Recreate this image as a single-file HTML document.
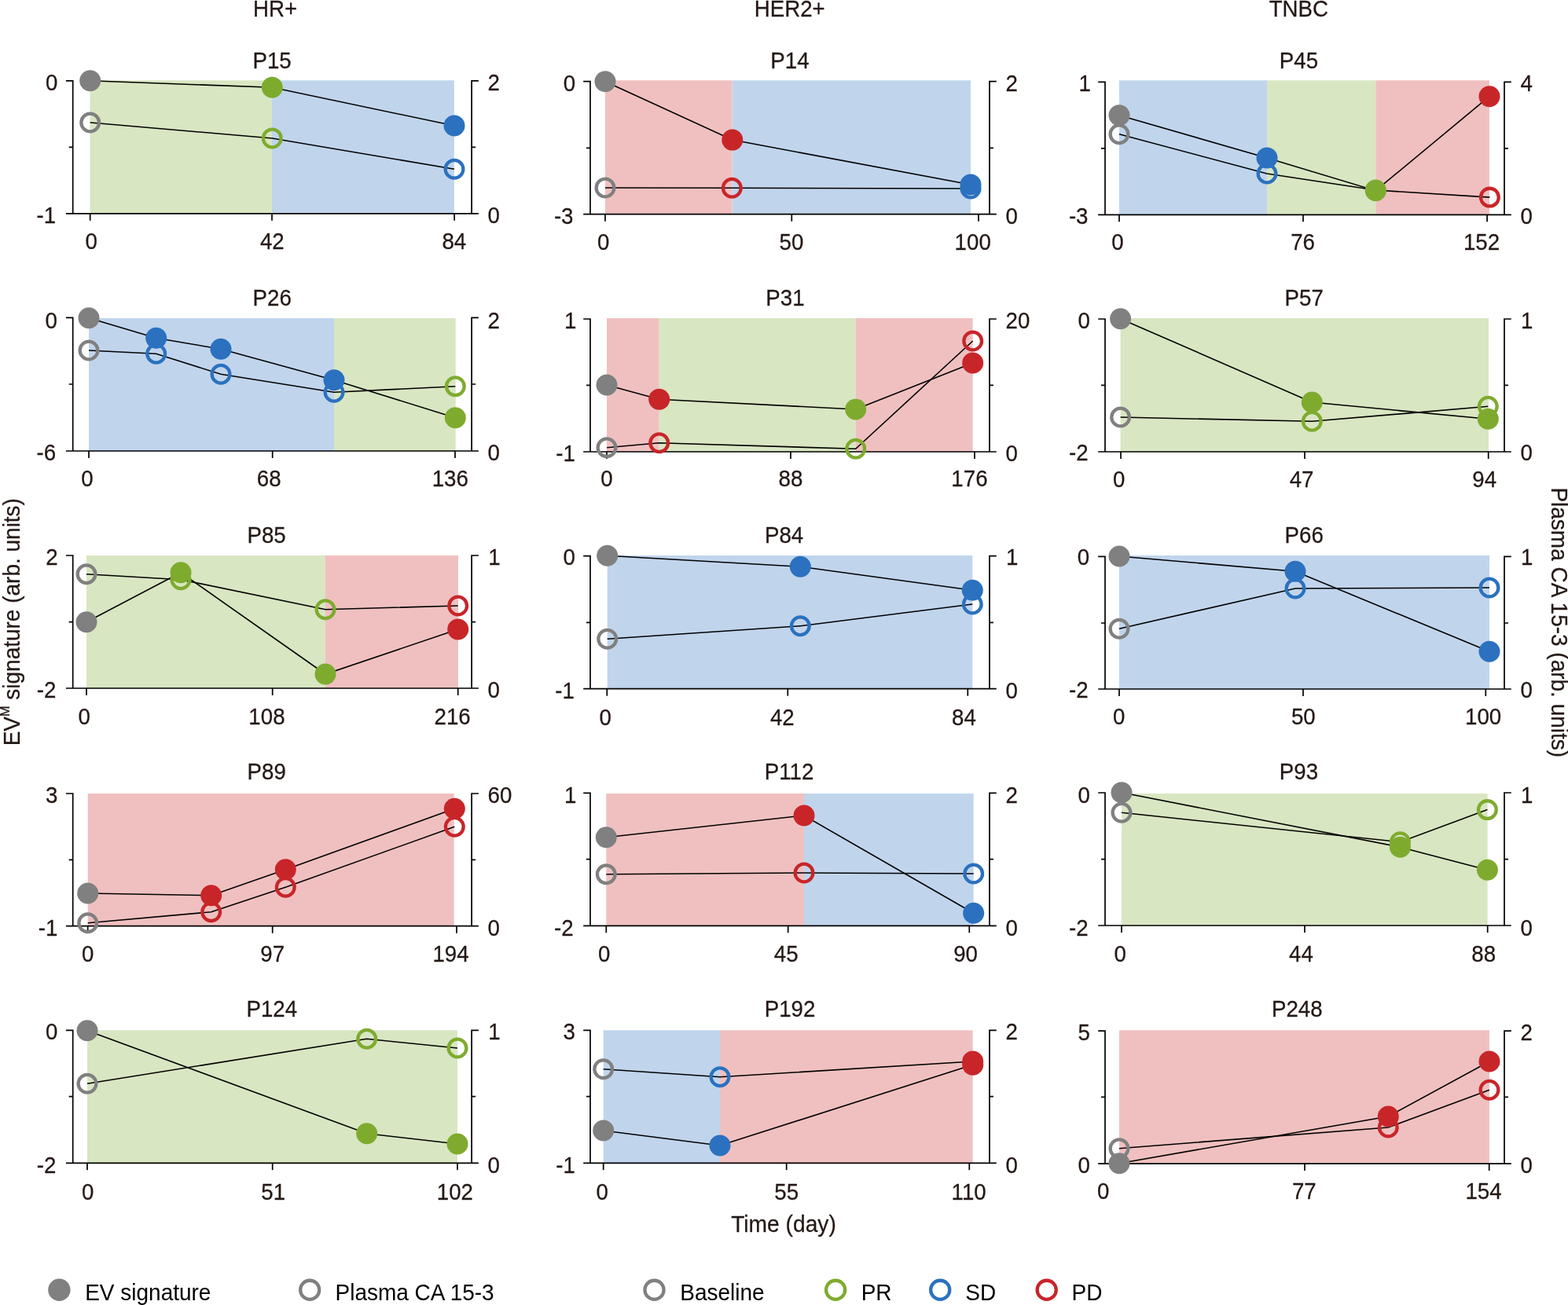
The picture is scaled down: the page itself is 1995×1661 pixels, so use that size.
<!DOCTYPE html>
<html lang="en">
<head>
<meta charset="utf-8">
<title>EV signature and plasma CA 15-3 over time</title>
<style>
html,body{margin:0;padding:0;background:#fff}
body{width:1995px;height:1661px;overflow:hidden}
svg{display:block}
text{font-family:"Liberation Sans",Arial,Helvetica,sans-serif;font-size:27.7px;fill:#231815;stroke:#231815;stroke-width:0.25px;stroke-linejoin:round}
text.t{font-size:28px}
text.k{fill:#000;stroke:none;font-size:28px}
.ax{fill:none;stroke:#000000;stroke-width:1.7}
.ln{fill:none;stroke:#000;stroke-width:1.6}
.o{fill:none;stroke-width:4.3}
</style>
</head>
<body>
<svg width="1995" height="1661" viewBox="0 0 1995 1661">
<rect width="1995" height="1661" fill="#fff"/>
<g id="P15">
<rect x="114.5" y="102.3" width="231.5" height="169.5" fill="#D8E6C2"/>
<rect x="346" y="102.3" width="231.9" height="169.5" fill="#C0D5EC"/>
<path class="ax" d="M83.9 102.9H92.7V271.8M87.7 187.3H92.7M608.9 102.9H600.1V271.8M605.1 187.3H600.1M83.9 271.8H608.9M114.7 271.8V280.8M346 271.8V280.8M578.1 271.8V280.8"/>
<polyline class="ln" points="114.7,156 346.3,176 578,215.3"/>
<polyline class="ln" points="114.7,102.7 346.3,111.3 578,160"/>
<circle class="o" cx="114.7" cy="156" r="11.35" stroke="#808080"/>
<circle class="o" cx="346.3" cy="176" r="11.35" stroke="#7EAB2E"/>
<circle class="o" cx="578" cy="215.3" r="11.35" stroke="#2B71BF"/>
<circle cx="114.7" cy="102.7" r="13.5" fill="#808080"/>
<circle cx="346.3" cy="111.3" r="13.5" fill="#7EAB2E"/>
<circle cx="578" cy="160" r="13.5" fill="#2B71BF"/>
<text transform="translate(321.5 86.7) scale(1 1.04)">P15</text>
<text transform="translate(57.98 115.3) scale(1 1.04)">0</text>
<text transform="translate(46.46 283.6) scale(1 1.04)">-1</text>
<text transform="translate(620.6 115.3) scale(1 1.04)">2</text>
<text transform="translate(620.6 283.6) scale(1 1.04)">0</text>
<text transform="translate(108.5 317.4) scale(1 1.04)">0</text>
<text transform="translate(330.97 317.4) scale(1 1.04)">42</text>
<text transform="translate(562.4 317.4) scale(1 1.04)">84</text>
</g>
<g id="P14">
<rect x="770" y="102.3" width="161.7" height="170.4" fill="#F0C0C0"/>
<rect x="931.7" y="102.3" width="303.3" height="170.4" fill="#C0D5EC"/>
<path class="ax" d="M742.2 103.7H751V272.7M746 188.3H751M1267.8 103.7H1259V272.7M1264 188.3H1259M742.2 272.7H1267.8M770 272.7V281.7M1007.3 272.7V281.7M1245 272.7V281.7"/>
<polyline class="ln" points="770,239 931.3,239.3 1235,240"/>
<polyline class="ln" points="770,103.7 931.8,178.1 1235,235"/>
<circle class="o" cx="770" cy="239" r="11.35" stroke="#808080"/>
<circle class="o" cx="931.3" cy="239.3" r="11.35" stroke="#C82529"/>
<circle class="o" cx="1235" cy="240" r="11.35" stroke="#2B71BF"/>
<circle cx="770" cy="103.7" r="13.5" fill="#808080"/>
<circle cx="931.8" cy="178.1" r="13.5" fill="#C82529"/>
<circle cx="1235" cy="235" r="13.5" fill="#2B71BF"/>
<text transform="translate(980.33 86.7) scale(1 1.04)">P14</text>
<text transform="translate(716.78 115.9) scale(1 1.04)">0</text>
<text transform="translate(704.89 285) scale(1 1.04)">-3</text>
<text transform="translate(1279.5 115.9) scale(1 1.04)">2</text>
<text transform="translate(1279.5 285) scale(1 1.04)">0</text>
<text transform="translate(760 318.1) scale(1 1.04)">0</text>
<text transform="translate(991.58 318.1) scale(1 1.04)">50</text>
<text transform="translate(1214.58 318.1) scale(1 1.04)">100</text>
</g>
<g id="P45">
<rect x="1424" y="102.3" width="188" height="171" fill="#C0D5EC"/>
<rect x="1612" y="102.3" width="138.3" height="171" fill="#D8E6C2"/>
<rect x="1750.3" y="102.3" width="144.7" height="171" fill="#F0C0C0"/>
<path class="ax" d="M1397.2 104.3H1406V273.3M1401 188.8H1406M1922.8 104.3H1914V273.3M1919 188.8H1914M1397.2 273.3H1922.8M1424 273.3V282.3M1658 273.3V282.3M1892.1 273.3V282.3"/>
<polyline class="ln" points="1424,170.7 1612,221 1750.3,242 1895.4,251.1"/>
<polyline class="ln" points="1424,146.7 1612,201 1750.3,242.7 1895,122.7"/>
<circle class="o" cx="1424" cy="170.7" r="11.35" stroke="#808080"/>
<circle class="o" cx="1612" cy="221" r="11.35" stroke="#2B71BF"/>
<circle class="o" cx="1750.3" cy="242" r="11.35" stroke="#7EAB2E"/>
<circle class="o" cx="1895.4" cy="251.1" r="11.35" stroke="#C82529"/>
<circle cx="1424" cy="146.7" r="13.5" fill="#808080"/>
<circle cx="1612" cy="201" r="13.5" fill="#2B71BF"/>
<circle cx="1750.3" cy="242.7" r="13.5" fill="#7EAB2E"/>
<circle cx="1895" cy="122.7" r="13.5" fill="#C82529"/>
<text transform="translate(1627.8 86.7) scale(1 1.04)">P45</text>
<text transform="translate(1372.58 116.1) scale(1 1.04)">1</text>
<text transform="translate(1359.89 284.9) scale(1 1.04)">-3</text>
<text transform="translate(1934.5 116.1) scale(1 1.04)">4</text>
<text transform="translate(1934.5 284.9) scale(1 1.04)">0</text>
<text transform="translate(1414.3 318.2) scale(1 1.04)">0</text>
<text transform="translate(1642.19 318.2) scale(1 1.04)">76</text>
<text transform="translate(1861.93 318.2) scale(1 1.04)">152</text>
</g>
<g id="P26">
<rect x="113" y="405" width="312" height="169" fill="#C0D5EC"/>
<rect x="425" y="405" width="154.7" height="169" fill="#D8E6C2"/>
<path class="ax" d="M83.9 404.3H92.7V574M87.7 489H92.7M608.9 404.3H600.1V574M605.1 489H600.1M83.9 574H608.9M113 574V583M346.7 574V583M579 574V583"/>
<polyline class="ln" points="113,446 198.7,450.3 281,476.3 425,499.3 579.3,491.7"/>
<polyline class="ln" points="113,404.7 198.7,430.3 281,444.3 425,483.7 579.3,531.7"/>
<circle class="o" cx="113" cy="446" r="11.35" stroke="#808080"/>
<circle class="o" cx="198.7" cy="450.3" r="11.35" stroke="#2B71BF"/>
<circle class="o" cx="281" cy="476.3" r="11.35" stroke="#2B71BF"/>
<circle class="o" cx="425" cy="499.3" r="11.35" stroke="#2B71BF"/>
<circle class="o" cx="579.3" cy="491.7" r="11.35" stroke="#7EAB2E"/>
<circle cx="113" cy="404.7" r="13.5" fill="#808080"/>
<circle cx="198.7" cy="430.3" r="13.5" fill="#2B71BF"/>
<circle cx="281" cy="444.3" r="13.5" fill="#2B71BF"/>
<circle cx="425" cy="483.7" r="13.5" fill="#2B71BF"/>
<circle cx="579.3" cy="531.7" r="13.5" fill="#7EAB2E"/>
<text transform="translate(321.53 389.3) scale(1 1.04)">P26</text>
<text transform="translate(57.38 417.7) scale(1 1.04)">0</text>
<text transform="translate(46.59 586) scale(1 1.04)">-6</text>
<text transform="translate(620.6 417.7) scale(1 1.04)">2</text>
<text transform="translate(620.6 586) scale(1 1.04)">0</text>
<text transform="translate(103.3 619.3) scale(1 1.04)">0</text>
<text transform="translate(326.79 619.3) scale(1 1.04)">68</text>
<text transform="translate(549.64 619.3) scale(1 1.04)">136</text>
</g>
<g id="P31">
<rect x="772" y="405" width="66.7" height="170" fill="#F0C0C0"/>
<rect x="838.7" y="405" width="250" height="170" fill="#D8E6C2"/>
<rect x="1088.7" y="405" width="149" height="170" fill="#F0C0C0"/>
<path class="ax" d="M742.2 406H751V575M746 490.3H751M1267.8 406H1259V575M1264 490.3H1259M742.2 575H1267.8M772 575V584M1006 575V584M1240 575V584"/>
<polyline class="ln" points="772,569.7 838.7,563.7 1088.7,571.3 1237.7,434"/>
<polyline class="ln" points="772,490 838.7,508.3 1088.7,521 1237.7,462"/>
<circle class="o" cx="772" cy="569.7" r="11.35" stroke="#808080"/>
<circle class="o" cx="838.7" cy="563.7" r="11.35" stroke="#C82529"/>
<circle class="o" cx="1088.7" cy="571.3" r="11.35" stroke="#7EAB2E"/>
<circle class="o" cx="1237.7" cy="434" r="11.35" stroke="#C82529"/>
<circle cx="772" cy="490" r="13.5" fill="#808080"/>
<circle cx="838.7" cy="508.3" r="13.5" fill="#C82529"/>
<circle cx="1088.7" cy="521" r="13.5" fill="#7EAB2E"/>
<circle cx="1237.7" cy="462" r="13.5" fill="#C82529"/>
<text transform="translate(974.26 389.3) scale(1 1.04)">P31</text>
<text transform="translate(717.98 418.1) scale(1 1.04)">1</text>
<text transform="translate(707.16 586.8) scale(1 1.04)">-1</text>
<text transform="translate(1279.5 418.1) scale(1 1.04)">20</text>
<text transform="translate(1279.5 586.8) scale(1 1.04)">0</text>
<text transform="translate(764.3 619) scale(1 1.04)">0</text>
<text transform="translate(990.59 619) scale(1 1.04)">88</text>
<text transform="translate(1210.34 619) scale(1 1.04)">176</text>
</g>
<g id="P57">
<rect x="1425.6" y="405" width="468.4" height="170" fill="#D8E6C2"/>
<path class="ax" d="M1397.2 406H1406V575M1401 490.3H1406M1922.8 406H1914V575M1919 490.3H1914M1397.2 575H1922.8M1426 575V584M1660 575V584M1893.7 575V584"/>
<polyline class="ln" points="1425.6,531 1669.3,536.3 1893.3,517.3"/>
<polyline class="ln" points="1425.6,405.7 1669.3,512 1893.3,533.3"/>
<circle class="o" cx="1425.6" cy="531" r="11.35" stroke="#808080"/>
<circle class="o" cx="1669.3" cy="536.3" r="11.35" stroke="#7EAB2E"/>
<circle class="o" cx="1893.3" cy="517.3" r="11.35" stroke="#7EAB2E"/>
<circle cx="1425.6" cy="405.7" r="13.5" fill="#808080"/>
<circle cx="1669.3" cy="512" r="13.5" fill="#7EAB2E"/>
<circle cx="1893.3" cy="533.3" r="13.5" fill="#7EAB2E"/>
<text transform="translate(1634.62 389.3) scale(1 1.04)">P57</text>
<text transform="translate(1371.38 417.7) scale(1 1.04)">0</text>
<text transform="translate(1360.06 586) scale(1 1.04)">-2</text>
<text transform="translate(1935.1 417.7) scale(1 1.04)">1</text>
<text transform="translate(1934.5 586) scale(1 1.04)">0</text>
<text transform="translate(1416 620.2) scale(1 1.04)">0</text>
<text transform="translate(1640.67 620.2) scale(1 1.04)">47</text>
<text transform="translate(1873.35 620.2) scale(1 1.04)">94</text>
</g>
<g id="P85">
<rect x="110" y="707" width="304" height="169" fill="#D8E6C2"/>
<rect x="414" y="707" width="169" height="169" fill="#F0C0C0"/>
<path class="ax" d="M83.9 707H92.7V876M87.7 791.7H92.7M608.9 707H600.1V876M605.1 791.7H600.1M83.9 876H608.9M110 876V885M346.7 876V885M582.7 876V885"/>
<polyline class="ln" points="110,730.7 230,737.7 414,775.7 582.7,771"/>
<polyline class="ln" points="110,791.7 230,728.7 414,858 582.7,801"/>
<circle class="o" cx="110" cy="730.7" r="11.35" stroke="#808080"/>
<circle class="o" cx="230" cy="737.7" r="11.35" stroke="#7EAB2E"/>
<circle class="o" cx="414" cy="775.7" r="11.35" stroke="#7EAB2E"/>
<circle class="o" cx="582.7" cy="771" r="11.35" stroke="#C82529"/>
<circle cx="110" cy="791.7" r="13.5" fill="#808080"/>
<circle cx="230" cy="728.7" r="13.5" fill="#7EAB2E"/>
<circle cx="414" cy="858" r="13.5" fill="#7EAB2E"/>
<circle cx="582.7" cy="801" r="13.5" fill="#C82529"/>
<text transform="translate(314.5 690.7) scale(1 1.04)">P85</text>
<text transform="translate(58.29 718.5) scale(1 1.04)">2</text>
<text transform="translate(46.76 888.3) scale(1 1.04)">-2</text>
<text transform="translate(621.2 718.5) scale(1 1.04)">1</text>
<text transform="translate(620.6 888.3) scale(1 1.04)">0</text>
<text transform="translate(99.6 922.3) scale(1 1.04)">0</text>
<text transform="translate(316.34 922.3) scale(1 1.04)">108</text>
<text transform="translate(552.5 922.3) scale(1 1.04)">216</text>
</g>
<g id="P84">
<rect x="772.7" y="707" width="464.6" height="169.7" fill="#C0D5EC"/>
<path class="ax" d="M742.2 707.7H751V876.7M746 792.3H751M1267.8 707.7H1259V876.7M1264 792.3H1259M742.2 876.7H1267.8M772.3 876.7V885.7M1002.3 876.7V885.7M1231.3 876.7V885.7"/>
<polyline class="ln" points="772.7,813.3 1018.3,796.7 1237.3,769"/>
<polyline class="ln" points="772.7,707.3 1018.3,721.3 1237.3,751.3"/>
<circle class="o" cx="772.7" cy="813.3" r="11.35" stroke="#808080"/>
<circle class="o" cx="1018.3" cy="796.7" r="11.35" stroke="#2B71BF"/>
<circle class="o" cx="1237.3" cy="769" r="11.35" stroke="#2B71BF"/>
<circle cx="772.7" cy="707.3" r="13.5" fill="#808080"/>
<circle cx="1018.3" cy="721.3" r="13.5" fill="#2B71BF"/>
<circle cx="1237.3" cy="751.3" r="13.5" fill="#2B71BF"/>
<text transform="translate(972.93 690.7) scale(1 1.04)">P84</text>
<text transform="translate(716.38 719) scale(1 1.04)">0</text>
<text transform="translate(706.36 888.8) scale(1 1.04)">-1</text>
<text transform="translate(1280.1 719) scale(1 1.04)">1</text>
<text transform="translate(1279.5 888.8) scale(1 1.04)">0</text>
<text transform="translate(762.6 922.8) scale(1 1.04)">0</text>
<text transform="translate(979.97 922.8) scale(1 1.04)">42</text>
<text transform="translate(1211.1 922.8) scale(1 1.04)">84</text>
</g>
<g id="P66">
<rect x="1424" y="707" width="471" height="170" fill="#C0D5EC"/>
<path class="ax" d="M1397.2 708.3H1406V877M1401 793H1406M1922.8 708.3H1914V877M1919 793H1914M1397.2 877H1922.8M1424 877V886M1658 877V886M1890.3 877V886"/>
<polyline class="ln" points="1424,800.3 1648,749 1895,748"/>
<polyline class="ln" points="1424,708 1648,727.3 1895,829.3"/>
<circle class="o" cx="1424" cy="800.3" r="11.35" stroke="#808080"/>
<circle class="o" cx="1648" cy="749" r="11.35" stroke="#2B71BF"/>
<circle class="o" cx="1895" cy="748" r="11.35" stroke="#2B71BF"/>
<circle cx="1424" cy="708" r="13.5" fill="#808080"/>
<circle cx="1648" cy="727.3" r="13.5" fill="#2B71BF"/>
<circle cx="1895" cy="829.3" r="13.5" fill="#2B71BF"/>
<text transform="translate(1634.53 690.7) scale(1 1.04)">P66</text>
<text transform="translate(1370.68 719.2) scale(1 1.04)">0</text>
<text transform="translate(1360.06 888.3) scale(1 1.04)">-2</text>
<text transform="translate(1935.1 719.2) scale(1 1.04)">1</text>
<text transform="translate(1934.5 888.3) scale(1 1.04)">0</text>
<text transform="translate(1416 922.3) scale(1 1.04)">0</text>
<text transform="translate(1642.88 922.3) scale(1 1.04)">50</text>
<text transform="translate(1863.98 922.3) scale(1 1.04)">100</text>
</g>
<g id="P89">
<rect x="111.7" y="1010" width="466" height="168.7" fill="#F0C0C0"/>
<path class="ax" d="M83.9 1010H92.7V1178.7M87.7 1094.3H92.7M608.9 1010H600.1V1178.7M605.1 1094.3H600.1M83.9 1178.7H608.9M111.7 1178.7V1187.7M346.7 1178.7V1187.7M581 1178.7V1187.7"/>
<polyline class="ln" points="111.7,1174.7 268.7,1160.7 363.3,1129.3 578.3,1052.3"/>
<polyline class="ln" points="111.7,1137 268.7,1139.7 363.3,1106.7 578.3,1029.3"/>
<circle class="o" cx="111.7" cy="1174.7" r="11.35" stroke="#808080"/>
<circle class="o" cx="268.7" cy="1160.7" r="11.35" stroke="#C82529"/>
<circle class="o" cx="363.3" cy="1129.3" r="11.35" stroke="#C82529"/>
<circle class="o" cx="578.3" cy="1052.3" r="11.35" stroke="#C82529"/>
<circle cx="111.7" cy="1137" r="13.5" fill="#808080"/>
<circle cx="268.7" cy="1139.7" r="13.5" fill="#C82529"/>
<circle cx="363.3" cy="1106.7" r="13.5" fill="#C82529"/>
<circle cx="578.3" cy="1029.3" r="13.5" fill="#C82529"/>
<text transform="translate(314.58 992.3) scale(1 1.04)">P89</text>
<text transform="translate(58.11 1021.7) scale(1 1.04)">3</text>
<text transform="translate(48.76 1190.7) scale(1 1.04)">-1</text>
<text transform="translate(620.6 1021.7) scale(1 1.04)">60</text>
<text transform="translate(620.6 1190.7) scale(1 1.04)">0</text>
<text transform="translate(104 1224.3) scale(1 1.04)">0</text>
<text transform="translate(331.34 1224.3) scale(1 1.04)">97</text>
<text transform="translate(550.44 1224.3) scale(1 1.04)">194</text>
</g>
<g id="P112">
<rect x="771.3" y="1010" width="251.7" height="168.3" fill="#F0C0C0"/>
<rect x="1023" y="1010" width="215.7" height="168.3" fill="#C0D5EC"/>
<path class="ax" d="M742.2 1009.3H751V1178.3M746 1093.7H751M1267.8 1009.3H1259V1178.3M1264 1093.7H1259M742.2 1178.3H1267.8M771.3 1178.3V1187.3M1002.7 1178.3V1187.3M1233.3 1178.3V1187.3"/>
<polyline class="ln" points="771.3,1112.7 1023,1111 1238.7,1112"/>
<polyline class="ln" points="771.3,1065.7 1023,1038 1238.7,1162.3"/>
<circle class="o" cx="771.3" cy="1112.7" r="11.35" stroke="#808080"/>
<circle class="o" cx="1023" cy="1111" r="11.35" stroke="#C82529"/>
<circle class="o" cx="1238.7" cy="1112" r="11.35" stroke="#2B71BF"/>
<circle cx="771.3" cy="1065.7" r="13.5" fill="#808080"/>
<circle cx="1023" cy="1038" r="13.5" fill="#C82529"/>
<circle cx="1238.7" cy="1162.3" r="13.5" fill="#2B71BF"/>
<text transform="translate(972.71 992.3) scale(1 1.04)">P112</text>
<text transform="translate(717.98 1021.7) scale(1 1.04)">1</text>
<text transform="translate(705.06 1190.7) scale(1 1.04)">-2</text>
<text transform="translate(1279.5 1021.7) scale(1 1.04)">2</text>
<text transform="translate(1279.5 1190.7) scale(1 1.04)">0</text>
<text transform="translate(761 1224.3) scale(1 1.04)">0</text>
<text transform="translate(984.86 1224.3) scale(1 1.04)">45</text>
<text transform="translate(1213.19 1224.3) scale(1 1.04)">90</text>
</g>
<g id="P93">
<rect x="1427" y="1010" width="465.6" height="168" fill="#D8E6C2"/>
<path class="ax" d="M1397.2 1009H1406V1178M1401 1093.7H1406M1922.8 1009H1914V1178M1919 1093.7H1914M1397.2 1178H1922.8M1427 1178V1187M1660 1178V1187M1892.7 1178V1187"/>
<polyline class="ln" points="1427,1034.3 1781.4,1071.7 1892.4,1030.6"/>
<polyline class="ln" points="1427,1008.7 1781.4,1078.2 1892.4,1107.3"/>
<circle class="o" cx="1427" cy="1034.3" r="11.35" stroke="#808080"/>
<circle class="o" cx="1781.4" cy="1071.7" r="11.35" stroke="#7EAB2E"/>
<circle class="o" cx="1892.4" cy="1030.6" r="11.35" stroke="#7EAB2E"/>
<circle cx="1427" cy="1008.7" r="13.5" fill="#808080"/>
<circle cx="1781.4" cy="1078.2" r="13.5" fill="#7EAB2E"/>
<circle cx="1892.4" cy="1107.3" r="13.5" fill="#7EAB2E"/>
<text transform="translate(1627.83 992.3) scale(1 1.04)">P93</text>
<text transform="translate(1371.38 1021.7) scale(1 1.04)">0</text>
<text transform="translate(1360.06 1190.7) scale(1 1.04)">-2</text>
<text transform="translate(1935.1 1021.7) scale(1 1.04)">1</text>
<text transform="translate(1934.5 1190.7) scale(1 1.04)">0</text>
<text transform="translate(1417.6 1224.3) scale(1 1.04)">0</text>
<text transform="translate(1639.98 1224.3) scale(1 1.04)">44</text>
<text transform="translate(1872.29 1224.3) scale(1 1.04)">88</text>
</g>
<g id="P124">
<rect x="111" y="1311.3" width="471" height="169" fill="#D8E6C2"/>
<path class="ax" d="M83.9 1311.3H92.7V1480.3M87.7 1395.7H92.7M608.9 1311.3H600.1V1480.3M605.1 1395.7H600.1M83.9 1480.3H608.9M111 1480.3V1489.3M346.7 1480.3V1489.3M582 1480.3V1489.3"/>
<polyline class="ln" points="111,1379.3 466.7,1322.3 582,1334"/>
<polyline class="ln" points="111,1311.7 466.7,1442.7 582,1456"/>
<circle class="o" cx="111" cy="1379.3" r="11.35" stroke="#808080"/>
<circle class="o" cx="466.7" cy="1322.3" r="11.35" stroke="#7EAB2E"/>
<circle class="o" cx="582" cy="1334" r="11.35" stroke="#7EAB2E"/>
<circle cx="111" cy="1311.7" r="13.5" fill="#808080"/>
<circle cx="466.7" cy="1442.7" r="13.5" fill="#7EAB2E"/>
<circle cx="582" cy="1456" r="13.5" fill="#7EAB2E"/>
<text transform="translate(313.42 1294.3) scale(1 1.04)">P124</text>
<text transform="translate(57.98 1323.3) scale(1 1.04)">0</text>
<text transform="translate(46.76 1493.3) scale(1 1.04)">-2</text>
<text transform="translate(621.2 1323.3) scale(1 1.04)">1</text>
<text transform="translate(620.6 1493.3) scale(1 1.04)">0</text>
<text transform="translate(104 1526.7) scale(1 1.04)">0</text>
<text transform="translate(332.28 1526.7) scale(1 1.04)">51</text>
<text transform="translate(555.73 1526.7) scale(1 1.04)">102</text>
</g>
<g id="P192">
<rect x="767.7" y="1311.3" width="148.3" height="169" fill="#C0D5EC"/>
<rect x="916" y="1311.3" width="321.7" height="169" fill="#F0C0C0"/>
<path class="ax" d="M742.2 1311.3H751V1480.3M746 1395.7H751M1267.8 1311.3H1259V1480.3M1264 1395.7H1259M742.2 1480.3H1267.8M767.7 1480.3V1489.3M1000.7 1480.3V1489.3M1233.3 1480.3V1489.3"/>
<polyline class="ln" points="767.7,1360.7 916,1370.7 1237.7,1351"/>
<polyline class="ln" points="767.7,1439 916,1458 1237.7,1355.3"/>
<circle class="o" cx="767.7" cy="1360.7" r="11.35" stroke="#808080"/>
<circle class="o" cx="916" cy="1370.7" r="11.35" stroke="#2B71BF"/>
<circle class="o" cx="1237.7" cy="1351" r="11.35" stroke="#C82529"/>
<circle cx="767.7" cy="1439" r="13.5" fill="#808080"/>
<circle cx="916" cy="1458" r="13.5" fill="#2B71BF"/>
<circle cx="1237.7" cy="1355.3" r="13.5" fill="#C82529"/>
<text transform="translate(972.71 1294.3) scale(1 1.04)">P192</text>
<text transform="translate(716.51 1323.3) scale(1 1.04)">3</text>
<text transform="translate(707.16 1493.3) scale(1 1.04)">-1</text>
<text transform="translate(1279.5 1323.3) scale(1 1.04)">2</text>
<text transform="translate(1279.5 1493.3) scale(1 1.04)">0</text>
<text transform="translate(758.6 1526.7) scale(1 1.04)">0</text>
<text transform="translate(985.32 1526.7) scale(1 1.04)">55</text>
<text transform="translate(1210.58 1526.7) scale(1 1.04)">110</text>
</g>
<g id="P248">
<rect x="1424" y="1311.3" width="471" height="169.8" fill="#F0C0C0"/>
<path class="ax" d="M1397.2 1312.1H1406V1481.1M1401 1396.3H1406M1922.8 1312.1H1914V1481.1M1919 1396.3H1914M1397.2 1481.1H1922.8M1424 1481.1V1490.1M1660 1481.1V1490.1M1894.7 1481.1V1490.1"/>
<polyline class="ln" points="1424,1461.7 1766.3,1435 1895,1387.3"/>
<polyline class="ln" points="1424,1480.7 1766.3,1421 1895,1351"/>
<circle class="o" cx="1424" cy="1461.7" r="11.35" stroke="#808080"/>
<circle class="o" cx="1766.3" cy="1435" r="11.35" stroke="#C82529"/>
<circle class="o" cx="1895" cy="1387.3" r="11.35" stroke="#C82529"/>
<circle cx="1424" cy="1480.7" r="13.5" fill="#808080"/>
<circle cx="1766.3" cy="1421" r="13.5" fill="#C82529"/>
<circle cx="1895" cy="1351" r="13.5" fill="#C82529"/>
<text transform="translate(1617.92 1294.3) scale(1 1.04)">P248</text>
<text transform="translate(1371.56 1324.2) scale(1 1.04)">5</text>
<text transform="translate(1371.48 1492.9) scale(1 1.04)">0</text>
<text transform="translate(1934.5 1324.2) scale(1 1.04)">2</text>
<text transform="translate(1934.5 1492.9) scale(1 1.04)">0</text>
<text transform="translate(1396 1526.4) scale(1 1.04)">0</text>
<text transform="translate(1643.88 1526.4) scale(1 1.04)">77</text>
<text transform="translate(1864.44 1526.4) scale(1 1.04)">154</text>
</g>
<text transform="translate(322.05 21) scale(1 1.04)">HR+</text>
<text transform="translate(959.71 21) scale(1 1.04)">HER2+</text>
<text transform="translate(1614.71 21) scale(1 1.04)">TNBC</text>
<text style="font-size:28.2px" transform="translate(930.18 1567.7) scale(1 1.04)">Time (day)</text>
<text class="t" transform="translate(24.8 949.3) rotate(-90) scale(1 1.04)">EV<tspan font-size="16.2" dy="-12.6">M</tspan><tspan dy="12.6"> signature (arb. units)</tspan></text>
<text class="t" transform="translate(1973.9 620.4) rotate(90) scale(1 1.04)">Plasma CA 15-3 (arb. units)</text>
<circle cx="75.4" cy="1641.8" r="14.2" fill="#808080"/>
<text class="k" transform="translate(108.2 1655.1) scale(1 1.04)">EV signature</text>
<circle class="o" cx="394.2" cy="1641.8" r="12.05" stroke="#808080"/>
<text class="k" transform="translate(426.5 1655.1) scale(1 1.04)">Plasma CA 15-3</text>
<circle class="o" cx="832.5" cy="1641.8" r="12.05" stroke="#808080"/>
<text class="k" transform="translate(865.3 1655.1) scale(1 1.04)">Baseline</text>
<circle class="o" cx="1063.1" cy="1641.8" r="12.05" stroke="#7EAB2E"/>
<text class="k" transform="translate(1095.7 1655.1) scale(1 1.04)">PR</text>
<circle class="o" cx="1196.2" cy="1641.8" r="12.05" stroke="#2B71BF"/>
<text class="k" transform="translate(1228.33 1655.1) scale(1 1.04)">SD</text>
<circle class="o" cx="1331.7" cy="1641.8" r="12.05" stroke="#C82529"/>
<text class="k" transform="translate(1363.5 1655.1) scale(1 1.04)">PD</text>
</svg>
</body>
</html>
